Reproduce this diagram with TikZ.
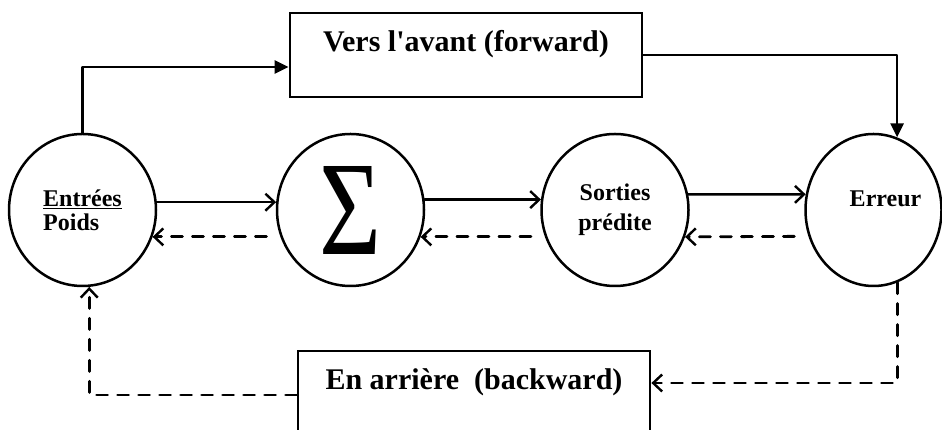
\documentclass[tikz,border=0pt]{standalone}
\usepackage{fontspec}
\setmainfont{Liberation Serif}
\usetikzlibrary{arrows.meta,shapes.geometric}

\begin{document}
\begin{tikzpicture}[line cap=round,line join=round,x=1pt,y=1pt,
	rond/.style={ellipse,draw,line width=2.5pt,minimum width=147pt,minimum height=152pt,inner sep=0pt,align=center,font=\fontsize{24}{30}\selectfont\bfseries},
	cadre/.style={rectangle,draw,line width=2.8pt,line join=miter,minimum width=352pt,minimum height=84pt,inner sep=4pt,text height=35pt,text depth=41pt,font=\fontsize{30}{34}\selectfont\bfseries},
	aller/.style={line width=2.5pt,-{Straight Barb[length=9pt,width=17pt,line width=2.4pt]}},
	plein/.style={line width=2.6pt,-{Triangle[length=14pt,width=13pt]}},
	retour/.style={line width=2.8pt,dash pattern=on 11pt off 10pt,-{Straight Barb[length=9pt,width=17pt,line width=2.4pt]}}]
		\clip[use as bounding box] (0,0) rectangle (942,430);
		\node[rond,align=left,font=\fontsize{24}{24}\selectfont\bfseries] (entrees) at (82.5,220) {\underline{Entrées}\\Poids};
		\node[rond] (somme) at (350.5,220) {\normalfont\resizebox{62pt}{88pt}{Σ}};
		\node[rond] (sorties) at (615,220) {Sorties\\prédite};
		\node[rond,minimum width=136pt,text depth=22pt] (erreur) at (873.5,220) {\hspace*{24pt}Erreur};
		\node[cadre] (avant) at (466,375) {Vers l\textquotesingle avant (forward)};
		\node[cadre] (arriere) at (474,37) {En arrière~~(backward)};
		\draw[plein] (entrees.north) |- ([yshift=-12pt]avant.west);
		\draw[plein] (avant.east) -| (erreur.72);
		\draw[aller] (entrees.6) -- (somme.174);
		\draw[aller] (somme.8) -- (sorties.172);
		\draw[aller] (sorties.12) -- (erreur.167);
		\draw[retour,shorten <=14pt] (erreur.202) -- (sorties.-21);
		\draw[retour,shorten <=14pt] (sorties.201) -- (somme.-21);
		\draw[retour,shorten <=14pt] (somme.201) -- (entrees.-21);
		\draw[retour] (erreur.-72) |- ([yshift=10pt]arriere.east);
		\draw[retour] ([yshift=-2pt]arriere.west) -| (entrees.-85);
	\end{tikzpicture}
\end{document}
